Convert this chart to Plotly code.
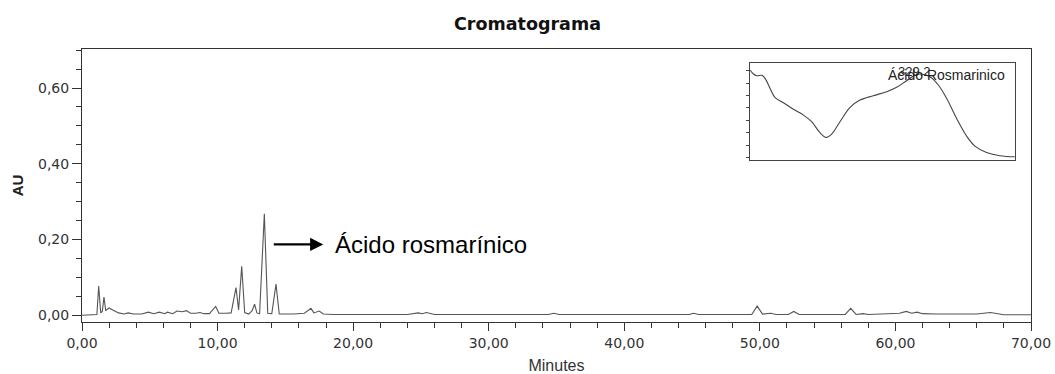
import plotly.graph_objects as go

# Chromatogram (Minutes vs AU)
time_min = [0.0, 1.0, 1.1, 1.23, 1.38, 1.50, 1.62, 1.75, 1.99, 2.3, 2.7, 3.1, 3.4, 3.8, 4.4, 4.9,
            5.3, 5.7, 6.1, 6.3, 6.7, 7.0, 7.4, 7.7, 8.0, 8.4, 8.7, 9.0, 9.4, 9.86, 10.1, 10.6,
            11.0, 11.36, 11.55, 11.78, 12.0, 12.3, 12.55, 12.73, 12.9, 13.1, 13.45, 13.7, 14.0,
            14.31, 14.55, 15.0, 15.6, 16.4, 16.89, 17.1, 17.5, 17.8, 18.5, 20.0, 22.0, 24.0,
            24.8, 25.1, 25.4, 25.7, 26.0, 30.0, 34.4, 34.8, 35.2, 40.0, 44.8, 45.1, 45.5, 49.4,
            49.8, 50.2, 50.8, 51.2, 52.1, 52.5, 52.9, 56.3, 56.7, 57.1, 57.6, 58.0, 59.5, 60.3,
            60.8, 61.2, 61.6, 62.0, 63.0, 66.0, 67.0, 67.6, 68.0, 70.0]
absorbance = [0.000, 0.000, 0.002, 0.077, 0.006, 0.010, 0.048, 0.012, 0.019, 0.013, 0.006, 0.003,
              0.006, 0.003, 0.003, 0.008, 0.004, 0.008, 0.004, 0.008, 0.004, 0.011, 0.009, 0.012,
              0.005, 0.005, 0.007, 0.004, 0.004, 0.023, 0.005, 0.005, 0.006, 0.073, 0.014, 0.129,
              0.007, 0.003, 0.012, 0.029, 0.006, 0.004, 0.268, 0.005, 0.004, 0.082, 0.003, 0.003,
              0.003, 0.005, 0.018, 0.006, 0.011, 0.003, 0.002, 0.002, 0.002, 0.002, 0.006, 0.004,
              0.007, 0.004, 0.002, 0.002, 0.002, 0.005, 0.002, 0.002, 0.002, 0.005, 0.002, 0.002,
              0.024, 0.003, 0.005, 0.002, 0.002, 0.010, 0.002, 0.002, 0.018, 0.002, 0.004, 0.002,
              0.003, 0.005, 0.010, 0.005, 0.008, 0.004, 0.003, 0.003, 0.007, 0.003, 0.001, 0.001]

# UV spectrum inset (wavelength nm vs relative absorbance)
inset_wavelength = [200, 202.5, 205, 208.8, 211.3, 215.1, 218.9, 225.2, 232.7, 240.3, 246.5, 252.8,
                    257.4, 261.6, 267.9, 275.5, 283, 293.1, 303.2, 310.7, 318.2, 324.5, 329.2,
                    335.8, 342.2, 348.4, 356, 363.5, 369.8, 378.6, 388.7, 400]
inset_abs = [0.925, 0.884, 0.866, 0.870, 0.839, 0.736, 0.640, 0.589, 0.521, 0.462, 0.394, 0.281,
             0.233, 0.267, 0.394, 0.541, 0.616, 0.661, 0.702, 0.747, 0.815, 0.870, 0.884,
             0.856, 0.771, 0.634, 0.428, 0.247, 0.144, 0.079, 0.045, 0.034]

title_text = "Cromatograma"
peak_label = "Ácido rosmarínico"
inset_label = "Ácido Rosmarinico"
inset_peak = "329.2"

tick_font = dict(family="DejaVu Sans", size=14, color="#333")

fig = go.Figure()
fig.add_trace(go.Scatter(x=time_min, y=absorbance, mode="lines",
                         line=dict(color="#555", width=1.1), xaxis="x", yaxis="y",
                         showlegend=False, hoverinfo="skip"))
fig.add_trace(go.Scatter(x=inset_wavelength, y=inset_abs, mode="lines", line_shape="spline",
                         line=dict(color="#444", width=1.1), xaxis="x2", yaxis="y2",
                         showlegend=False, hoverinfo="skip"))

fig.update_layout(
    width=1055, height=374,
    margin=dict(l=82, r=24, t=49, b=52, autoexpand=False),
    paper_bgcolor="white", plot_bgcolor="white",
    separators=",.",
    title=dict(text=title_text, x=0.5, xanchor="center", y=1 - 24 / 374, yanchor="middle",
               automargin=False,
               font=dict(family="DejaVu Sans", size=17.5, color="#111", weight="bold")),
    xaxis=dict(range=[0, 70], dtick=10, tick0=0, tickformat=".2f", showgrid=False, zeroline=False,
               showline=True, linecolor="#333", linewidth=1, mirror=True, automargin=False,
               ticks="outside", ticklen=8, tickcolor="#333",
               minor=dict(dtick=2, ticks="outside", ticklen=5, tickcolor="#333"),
               tickfont=tick_font,
               title=dict(text="Minutes", standoff=12,
                          font=dict(family="Liberation Sans", size=16, color="#333"))),
    yaxis=dict(range=[-0.018, 0.703], dtick=0.2, tick0=0, tickformat=".2f", showgrid=False,
               zeroline=False, showline=True, linecolor="#333", linewidth=1, mirror=True,
               automargin=False,
               ticks="outside", ticklen=9, tickcolor="#333",
               minor=dict(dtick=0.05, ticks="outside", ticklen=5, tickcolor="#333"),
               tickfont=tick_font,
               title=dict(text="<b>AU</b>", standoff=10,
                          font=dict(family="Liberation Sans", size=15, color="#222"))),
    xaxis2=dict(domain=[0.704, 0.983], anchor="y2", range=[200, 400], showgrid=False,
                zeroline=False, showline=True, linecolor="#444", linewidth=1, mirror=True,
                ticks="", showticklabels=False, automargin=False),
    yaxis2=dict(domain=[0.593, 0.950], anchor="x2", range=[0, 1], showgrid=False,
                zeroline=False, showline=True, linecolor="#444", linewidth=1, mirror=True,
                ticks="outside", ticklen=3, tickcolor="#444", tick0=0.027, dtick=0.127,
                showticklabels=False, automargin=False),
    annotations=[
        dict(x=17.8, y=0.187, xref="x", yref="y", text="", showarrow=True,
             ax=-51, ay=0, axref="pixel", ayref="pixel", arrowhead=2, arrowsize=1.2,
             arrowwidth=2.2, arrowcolor="#000"),
        dict(x=18.5, y=0.187, xref="x", yref="y", text=peak_label, showarrow=False,
             xanchor="left", yanchor="middle",
             font=dict(family="Liberation Sans", size=24, color="#000")),
        dict(x=348, y=0.875, xref="x2", yref="y2", text=inset_label, showarrow=False,
             xanchor="center", yanchor="middle",
             font=dict(family="Liberation Sans", size=14, color="#222")),
        dict(x=324.5, y=0.91, xref="x2", yref="y2", text=inset_peak, showarrow=False,
             xanchor="center", yanchor="middle",
             font=dict(family="Liberation Sans", size=13, color="#222")),
    ],
)

fig.write_html("out.html")
